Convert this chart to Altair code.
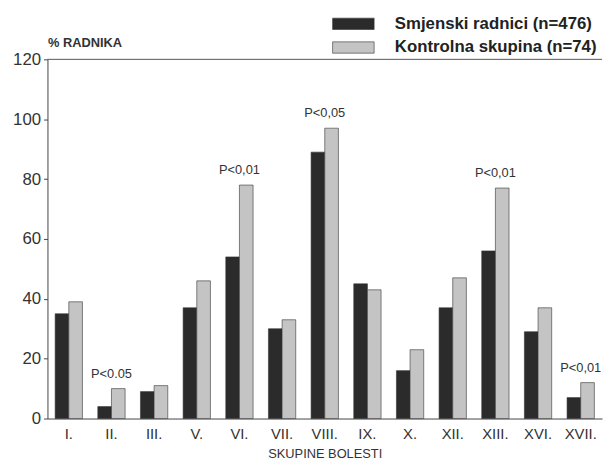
import altair as alt
import pandas as pd

categories = ["I.", "II.", "III.", "V.", "VI.", "VII.", "VIII.", "IX.", "X.", "XII.", "XIII.", "XVI.", "XVII."]
shift_workers = [35, 4, 9, 37, 54, 30, 89, 45, 16, 37, 56, 29, 7]
control_group = [39, 10, 11, 46, 78, 33, 97, 43, 23, 47, 77, 37, 12]
series_names = ["Smjenski radnici (n=476)", "Kontrolna skupina (n=74)"]
annot_cats = ["II.", "VI.", "VIII.", "XIII.", "XVII."]
annot_text = ["P<0.05", "P<0,01", "P<0,05", "P<0,01", "P<0,01"]
y_ticks = [0, 20, 40, 60, 80, 100, 120]

rows = []
for c, a, b in zip(categories, shift_workers, control_group):
    rows.append({"cat": c, "grupa": series_names[0], "val": a})
    rows.append({"cat": c, "grupa": series_names[1], "val": b})
df = pd.DataFrame(rows)

ann_vals = [max(shift_workers[categories.index(c)], control_group[categories.index(c)]) for c in annot_cats]
ann = pd.DataFrame({"cat": annot_cats, "label": annot_text, "val": ann_vals})
top = pd.DataFrame({"v": [120]})

FONT = "Liberation Sans"

x = alt.X("cat:N", sort=categories,
          scale=alt.Scale(paddingInner=0.36, paddingOuter=0.18),
          axis=alt.Axis(title="SKUPINE BOLESTI", labelAngle=0, ticks=False,
                        labelFontSize=15, labelPadding=8, titleFontSize=13,
                        titleFontWeight="normal", titlePadding=6))
y = alt.Y("val:Q", scale=alt.Scale(domain=[0, 120], nice=False),
          axis=alt.Axis(values=y_ticks, title="% RADNIKA", titleAngle=0,
                        titleX=0, titleY=-10, titleAlign="left",
                        titleBaseline="bottom", titleFontSize=13,
                        titleFontWeight="bold", grid=False, tickSize=4,
                        labelFontSize=17, labelPadding=3))

bars = alt.Chart(df).mark_bar(stroke="#333", strokeWidth=0.6).encode(
    x=x,
    xOffset=alt.XOffset("grupa:N", sort=series_names,
                        scale=alt.Scale(paddingInner=0, paddingOuter=0)),
    y=y,
    color=alt.Color("grupa:N", sort=series_names,
                    scale=alt.Scale(domain=series_names, range=["#2b2b2b", "#c4c4c4"]),
                    legend=alt.Legend(title=None, orient="none", legendX=298, legendY=-48,
                                      symbolType="M-1.83,-0.5H1.83V0.5H-1.83Z", symbolSize=529,
                                      symbolStrokeColor="#333", symbolStrokeWidth=0.6,
                                      labelFontSize=17, labelOffset=30, labelColor="#222",
                                      labelFontWeight="bold",
                                      rowPadding=4, labelLimit=300)),
)

labels = alt.Chart(ann).mark_text(dy=-8, fontSize=13, color="#333", baseline="bottom").encode(
    x=alt.X("cat:N", sort=categories), y=alt.Y("val:Q"), text="label:N"
)

toprule = alt.Chart(top).mark_rule(color="#555", strokeWidth=1).encode(y=alt.Y("v:Q"))

chart = alt.layer(bars, labels, toprule).properties(
    width=562, height=364,
    autosize=alt.AutoSizeParams(type="none"),
    padding={"left": 40, "top": 49, "right": 3, "bottom": 40},
).configure(font=FONT).configure_view(stroke=None).configure_axis(
    domainColor="#444", tickColor="#444", labelColor="#333", titleColor="#333"
)

chart.save("out.html", embed_options={"renderer": "svg", "actions": False})
